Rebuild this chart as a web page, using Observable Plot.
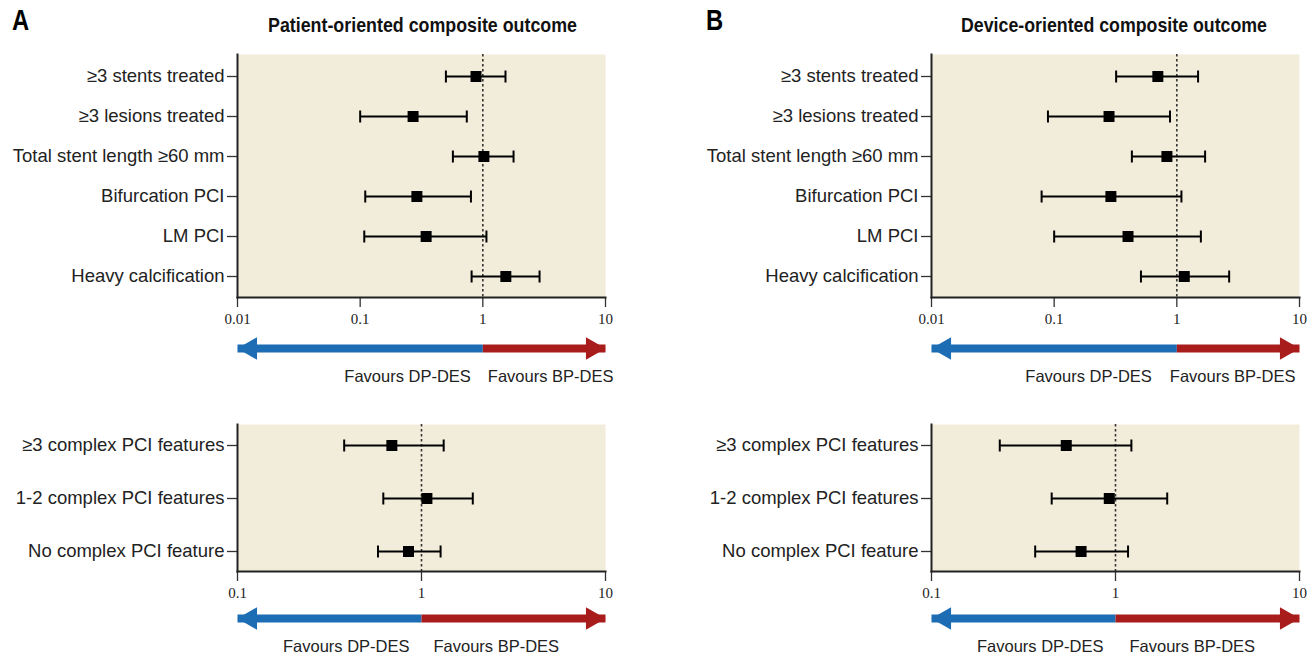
<!DOCTYPE html>
<html>
<head>
<meta charset="utf-8">
<script src="https://cdn.jsdelivr.net/npm/d3@7"></script>
<script src="https://cdn.jsdelivr.net/npm/@observablehq/plot@0.6"></script>
<style>
  html, body { margin: 0; padding: 0; background: #fff; }
  #root { position: relative; width: 1312px; height: 657px; overflow: hidden; }
  .letter { font-family: "Liberation Sans", Arial, sans-serif; font-weight: bold; font-size: 29px; line-height: 29px; color: #000; transform-origin: 0 0; transform: scaleX(0.82); white-space: nowrap; }
  .title { font-family: "Liberation Sans", Arial, sans-serif; font-weight: bold; font-size: 21px; line-height: 21px; color: #111; white-space: nowrap; transform-origin: 0 0; }
</style>
</head>
<body>
<div id="root"></div>
<script>
// ---------- data ----------
const panelLetters = ["A", "B"];
const titles = ["Patient-oriented composite outcome", "Device-oriented composite outcome"];

const rowsTop = ["≥3 stents treated", "≥3 lesions treated", "Total stent length ≥60 mm", "Bifurcation PCI", "LM PCI", "Heavy calcification"];
const poEst = [0.88, 0.27, 1.02, 0.29, 0.345, 1.54];
const poLo  = [0.50, 0.10, 0.57, 0.11, 0.108, 0.81];
const poHi  = [1.53, 0.74, 1.78, 0.80, 1.07, 2.90];
const doEst = [0.70, 0.28, 0.83, 0.29, 0.40, 1.15];
const doLo  = [0.32, 0.089, 0.43, 0.079, 0.100, 0.51];
const doHi  = [1.49, 0.88, 1.70, 1.09, 1.57, 2.67];

const rowsBot = ["≥3 complex PCI features", "1-2 complex PCI features", "No complex PCI feature"];
const poBotEst = [0.69, 1.07, 0.85];
const poBotLo  = [0.38, 0.62, 0.58];
const poBotHi  = [1.32, 1.90, 1.27];
const doBotEst = [0.54, 0.925, 0.65];
const doBotLo  = [0.235, 0.45, 0.366];
const doBotHi  = [1.22, 1.91, 1.17];

const ticksTop = [0.01, 0.1, 1, 10];
const tickLabelsTop = ["0.01", "0.1", "1", "10"];
const ticksBot = [0.1, 1, 10];
const tickLabelsBot = ["0.1", "1", "10"];
const favours = ["Favours DP-DES", "Favours BP-DES"];

// ---------- styles ----------
const SANS = "'Liberation Sans', Arial, sans-serif";
const SERIF = "'Liberation Serif', 'Times New Roman', serif";
const BG = "#f1edda";
const BLUE = "#1d6db5";
const RED = "#a81c1c";

const root = document.getElementById("root");
function place(node, left, top) {
  node.style.position = "absolute";
  node.style.left = left + "px";
  node.style.top = top + "px";
  root.appendChild(node);
  return node;
}

// vertical cap symbol for CI whiskers
const capSymbol = {draw(ctx) { ctx.moveTo(0, -6); ctx.lineTo(0, 6); }};

function forest(rows, est, lo, hi, ticks, tickLabels, opts) {
  const data = rows.map((label, i) => ({label, est: est[i], lo: lo[i], hi: hi[i]}));
  return Plot.plot({
    width: 620,
    height: opts.height,
    marginLeft: 237,
    marginRight: 15,
    marginTop: 14,
    marginBottom: 40,
    style: {fontFamily: SANS, fontSize: "18.5px", color: "#222", background: "transparent", overflow: "visible"},
    x: {type: "log", domain: [ticks[0], ticks[ticks.length - 1]]},
    y: {type: "point", domain: rows, padding: opts.padding},
    marks: [
      Plot.frame({fill: BG, stroke: null}),
      Plot.ruleX([1], {stroke: "#333", strokeWidth: 1.6, strokeDasharray: "2.5,2.5"}),
      Plot.link(data, {y1: "label", y2: "label", x1: "lo", x2: "hi", stroke: "#000", strokeWidth: 2}),
      Plot.dot(data, {x: "lo", y: "label", symbol: capSymbol, r: 6, stroke: "#000", strokeWidth: 2, fill: "none"}),
      Plot.dot(data, {x: "hi", y: "label", symbol: capSymbol, r: 6, stroke: "#000", strokeWidth: 2, fill: "none"}),
      Plot.dot(data, {x: "est", y: "label", symbol: "square", r: 6.2, fill: "#000", stroke: null}),
      Plot.axisY({tickSize: 10, tickPadding: 3, label: null, fontSize: 18.5, stroke: "#333", strokeWidth: 1.3}),
      Plot.axisX({ticks, tickFormat: (d) => tickLabels[ticks.indexOf(d)], tickSize: 10, tickPadding: 6, label: null,
                  fontFamily: SERIF, fontSize: 15, stroke: "#333", strokeWidth: 1.3}),
      Plot.frame({anchor: "left", stroke: "#222", strokeWidth: 2}),
      Plot.frame({anchor: "bottom", stroke: "#222", strokeWidth: 2})
    ]
  });
}

function arrows(ticks, dxLeft, dxRight) {
  const xmin = ticks[0], xmax = ticks[ticks.length - 1];
  return Plot.plot({
    width: 620,
    height: 58,
    marginLeft: 237,
    marginRight: 15,
    marginTop: 18,
    marginBottom: 12,
    style: {fontFamily: SANS, fontSize: "16.5px", color: "#222", background: "transparent", overflow: "visible"},
    x: {type: "log", domain: [xmin, xmax], axis: null},
    y: {type: "point", domain: ["arrow", "label"], padding: 0, axis: null},
    marks: [
      Plot.link([{a: xmin, b: 1}], {x1: "a", x2: "b", y1: () => "arrow", y2: () => "arrow", stroke: BLUE, strokeWidth: 8, insetLeft: 12}),
      Plot.link([{a: 1, b: xmax}], {x1: "a", x2: "b", y1: () => "arrow", y2: () => "arrow", stroke: RED, strokeWidth: 8, insetRight: 12}),
      Plot.dot([xmin], {x: d => d, y: () => "arrow", symbol: "triangle", r: 8.4, rotate: -90, dx: 13, fill: BLUE, stroke: null}),
      Plot.dot([xmax], {x: d => d, y: () => "arrow", symbol: "triangle", r: 8.4, rotate: 90, dx: -13, fill: RED, stroke: null}),
      Plot.text([favours[0]], {x: () => 1, y: () => "label", text: d => d, textAnchor: "end", dx: dxLeft, fill: "#222", fontSize: 16.5}),
      Plot.text([favours[1]], {x: () => 1, y: () => "label", text: d => d, textAnchor: "start", dx: dxRight, fill: "#222", fontSize: 16.5})
    ]
  });
}

// letters and titles
[[12, 6, 0], [706, 6, 1]].forEach(([l, t, i]) => {
  const d = document.createElement("div"); d.className = "letter"; d.textContent = panelLetters[i]; place(d, l, t);
});
[[268, 309, 0], [961, 306, 1]].forEach(([left, w, i]) => {
  const d = document.createElement("div"); d.className = "title"; d.textContent = titles[i];
  place(d, left, 14);
  const s = w / d.getBoundingClientRect().width;
  d.style.transform = `scaleX(${s})`;
});

// Panel A
place(forest(rowsTop, poEst, poLo, poHi, ticksTop, tickLabelsTop, {height: 297, padding: 0.5}), 0, 40);
place(arrows(ticksTop, -12, 5), 0, 330);
place(forest(rowsBot, poBotEst, poBotLo, poBotHi, ticksBot, tickLabelsBot, {height: 201, padding: 0.375}), 0, 410);
place(arrows(ticksBot, -12, 12), 0, 600);

// Panel B
place(forest(rowsTop, doEst, doLo, doHi, ticksTop, tickLabelsTop, {height: 297, padding: 0.5}), 694, 40);
place(arrows(ticksTop, -25, -7), 694, 330);
place(forest(rowsBot, doBotEst, doBotLo, doBotHi, ticksBot, tickLabelsBot, {height: 201, padding: 0.375}), 694, 410);
place(arrows(ticksBot, -12, 14), 694, 600);
</script>
</body>
</html>
